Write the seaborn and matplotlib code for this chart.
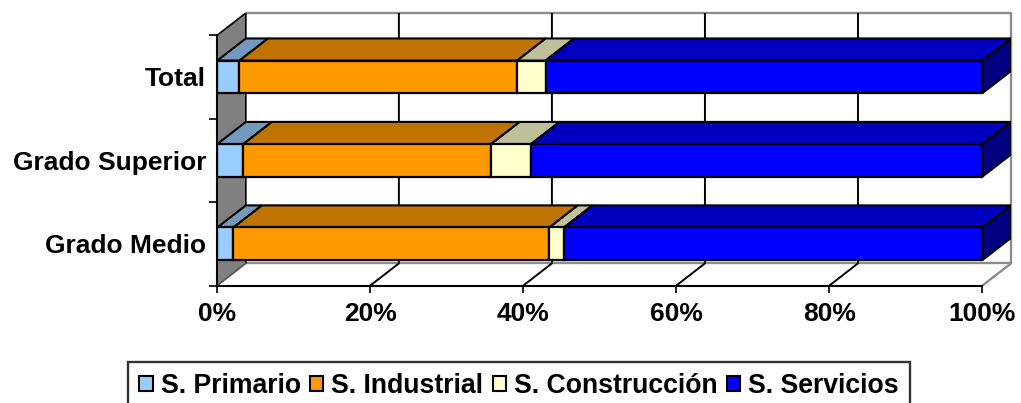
import matplotlib
matplotlib.use("Agg")
import matplotlib.pyplot as plt
from matplotlib.patches import Patch, Polygon
import numpy as np
import seaborn as sns

categories = ["Total", "Grado Superior", "Grado Medio"]
series = ["S. Primario", "S. Industrial", "S. Construcción", "S. Servicios"]
primario = [2.9, 3.4, 2.1]
industrial = [36.3, 32.4, 41.3]
construccion = [3.7, 5.2, 1.9]
servicios = [57.1, 59.0, 54.7]
xticks = [0, 20, 40, 60, 80, 100]
front_colors = ["#99CCFF", "#FF9900", "#FFFFCC", "#0000FF"]
top_colors = ["#7399BF", "#BF7300", "#BFBF99", "#0000BF"]
side_color = "#000080"

W, H = 1021, 403
DX = 3.73      # depth in percent units
DY = 0.265     # depth in category units
BAR_H = 0.39

sns.set_theme(style="white")
plt.rcParams["font.family"] = ["Liberation Sans", "DejaVu Sans"]
plt.rcParams["font.weight"] = "bold"
plt.rcParams["text.color"] = "black"

fig = plt.figure(figsize=(W / 100, H / 100), dpi=100, facecolor="white")
ax = fig.add_axes([217.3 / W, 1 - 285.5 / H, (1011 - 217.3) / W, (285.5 - 13) / H])

# stacked bars through seaborn
values = [np.array(v, float) for v in (primario, industrial, construccion, servicios)]
lefts = np.cumsum([np.zeros(3)] + values[:-1], axis=0)
for v, l, c in zip(values, lefts, front_colors):
    sns.barplot(x=v, y=categories, left=l, color=c, saturation=1, width=BAR_H,
                edgecolor="black", linewidth=1.6, order=categories, orient="h",
                ax=ax, zorder=4)

y0, y1 = 2.5, -0.5
ax.set_xlim(0, 100 + DX)
ax.set_ylim(y0, y1 - DY)

GRAY = "#8C8C8C"
# walls
ax.add_patch(Polygon([(0, y0), (DX, y0 - DY), (DX, y1 - DY), (0, y1)], closed=True,
                     facecolor="#808080", edgecolor="none", zorder=1))
ax.plot([DX, 100 + DX, 100 + DX, 100], [y1 - DY, y1 - DY, y0 - DY, y0], color=GRAY, lw=1.7,
        zorder=1.5, clip_on=False)
ax.plot([DX, 100 + DX], [y0 - DY, y0 - DY], color=GRAY, lw=1.7, zorder=1.5)
ax.plot([0, DX, DX], [y1, y1 - DY, y0 - DY], color="black", lw=1.2, zorder=2)
ax.plot([0, DX], [y0, y0 - DY], color="#555555", lw=1.2, zorder=2)
for t in xticks[1:-1]:
    ax.plot([t, t + DX, t + DX], [y0, y0 - DY, y1 - DY], color="black", lw=1.4, zorder=2)

# top and end faces of the bars
for v, l, c in zip(values, lefts, top_colors):
    for i in range(len(categories)):
        yt = i - BAR_H / 2
        ax.add_patch(Polygon([(l[i], yt), (l[i] + v[i], yt), (l[i] + v[i] + DX, yt - DY), (l[i] + DX, yt - DY)],
                             closed=True, facecolor=c, edgecolor="black", lw=1.5, zorder=3))
for i in range(len(categories)):
    yt, yb = i - BAR_H / 2, i + BAR_H / 2
    ax.add_patch(Polygon([(100, yt), (100 + DX, yt - DY), (100 + DX, yb - DY), (100, yb)],
                         closed=True, facecolor=side_color, edgecolor="black", lw=1.5, zorder=3))

# axes
for s in ("top", "right"):
    ax.spines[s].set_visible(False)
ax.spines["left"].set_bounds(y0, y1)
ax.spines["bottom"].set_bounds(0, 100)
for s in ("left", "bottom"):
    ax.spines[s].set_color("black")
    ax.spines[s].set_linewidth(1.5)
    ax.spines[s].set_zorder(5)
ax.set_xticks(xticks)
ax.set_xticklabels([f"{t}%" for t in xticks], fontsize=19, fontweight="bold", color="black")
ax.set_yticks(range(3))
ax.set_yticklabels(categories, fontsize=19, fontweight="bold", color="black")
ax.set_yticks([-0.5, 0.5, 1.5, 2.5], minor=True)
ax.tick_params(axis="x", which="major", bottom=True, length=5.2, width=1.2, color="black", pad=6.5)
ax.tick_params(axis="y", which="major", left=False, length=0, pad=8)
ax.tick_params(axis="y", which="minor", left=True, length=5.6, width=1.2, color="black")
ax.set_xlabel("")
ax.set_ylabel("")

# legend, its lower edge runs off the canvas as in the source
handles = [Patch(facecolor=c, edgecolor="black", linewidth=1.5, label=s)
           for s, c in zip(series, front_colors)]
leg = fig.legend(handles=handles, ncol=4, loc="lower left",
                 bbox_to_anchor=(128 / W, -7 / H), bbox_transform=fig.transFigure,
                 prop={"family": "Liberation Sans", "weight": "bold", "size": 19.2},
                 frameon=True, fancybox=False, edgecolor="black", facecolor="white",
                 labelcolor="black",
                 borderaxespad=0, handlelength=0.5, handleheight=0.5,
                 handletextpad=0.3, columnspacing=0.35, borderpad=0.42)
leg.get_frame().set_linewidth(1.7)

fig.savefig("out.png", dpi=100, facecolor="white")
